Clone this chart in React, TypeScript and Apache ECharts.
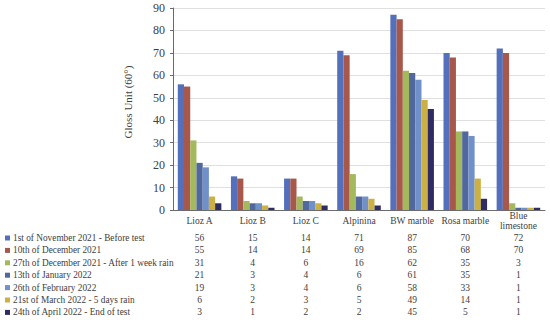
import React, { useEffect, useRef } from "react";
import * as echarts from "echarts";

const categories = ["Lioz A", "Lioz B", "Lioz C", "Alpinina", "BW marble", "Rosa marble", "Blue\nlimestone"];
const seriesNames = [
  "1st of November 2021 - Before test",
  "10th of December 2021",
  "27th of December 2021 - After 1 week rain",
  "13th of January 2022",
  "26th of February 2022",
  "21st of March 2022 - 5 days rain",
  "24th of April 2022 - End of test",
];
const nov1 = [56, 15, 14, 71, 87, 70, 72];
const dec10 = [55, 14, 14, 69, 85, 68, 70];
const dec27 = [31, 4, 6, 16, 62, 35, 3];
const jan13 = [21, 3, 4, 6, 61, 35, 1];
const feb26 = [19, 3, 4, 6, 58, 33, 1];
const mar21 = [6, 2, 3, 5, 49, 14, 1];
const apr24 = [3, 1, 2, 2, 45, 5, 1];
const seriesValues = [nov1, dec10, dec27, jan13, feb26, mar21, apr24];
const yTicks = { min: 0, max: 90, interval: 10 };

const colors = ["#5470BC", "#A8574B", "#A4B85C", "#50689E", "#6F90C8", "#CDB044", "#2E2C63"];
const FONT = "'Liberation Serif', 'Times New Roman', 'DejaVu Serif', serif";
const TEXT = "#404040";
const SMALL = 9.5;

export default function App() {
  const ref = useRef<HTMLDivElement>(null);
  useEffect(() => {
    if (!ref.current) return;
    const chart = echarts.init(ref.current, null, { renderer: "svg" });
    const rowStart = 28;
    const rowStep = 12.4;
    const tableAxes = seriesValues.map((vals, i) => ({
      type: "category",
      data: categories,
      position: "bottom",
      offset: rowStart + i * rowStep,
      axisLine: { show: false },
      axisTick: { show: false },
      splitLine: { show: false },
      axisLabel: {
        margin: 0,
        verticalAlign: "middle",
        fontFamily: FONT,
        fontSize: SMALL,
        color: TEXT,
        interval: 0,
        formatter: (_v: string, idx: number) => String(vals[idx]),
      },
    }));
    chart.setOption({
      animation: false,
      textStyle: { fontFamily: FONT },
      grid: { left: 173, right: 5, top: 8, bottom: 114, containLabel: false },
      legend: {
        orient: "vertical",
        left: 5,
        top: 232,
        padding: 0,
        itemWidth: 5,
        itemHeight: 5,
        itemGap: 0.4,
        icon: "rect",
        textStyle: { fontFamily: FONT, fontSize: 9.3, color: TEXT, lineHeight: 12, padding: [0, 0, 0, -2] },
        data: seriesNames,
      },
      xAxis: [
        {
          type: "category",
          data: categories,
          axisLine: { show: true, lineStyle: { color: "#6b6b6b" } },
          axisTick: { show: false },
          axisLabel: {
            interval: 0,
            margin: 11,
            verticalAlign: "middle",
            fontFamily: FONT,
            fontSize: SMALL,
            color: TEXT,
            lineHeight: 10.5,
          },
        },
        ...tableAxes,
      ],
      yAxis: {
        type: "value",
        min: yTicks.min,
        max: yTicks.max,
        interval: yTicks.interval,
        name: "Gloss Unit (60°)",
        nameLocation: "middle",
        nameGap: 40,
        nameRotate: 90,
        nameTextStyle: { fontFamily: FONT, fontSize: 11, color: TEXT, padding: [0, 0, 0, 14] },
        axisLine: { show: true, lineStyle: { color: "#6b6b6b" } },
        axisTick: { show: true, length: 3, lineStyle: { color: "#6b6b6b" } },
        axisLabel: { fontFamily: FONT, fontSize: 12, color: TEXT, margin: 8 },
        splitLine: { show: true, lineStyle: { color: "#e0e0e0" } },
      },
      series: seriesValues.map((vals, i) => ({
        type: "bar",
        name: seriesNames[i],
        data: vals,
        xAxisIndex: 0,
        barGap: "0%",
        barCategoryGap: "18%",
        itemStyle: { color: colors[i] },
      })),
    });
    return () => chart.dispose();
  }, []);
  return <div ref={ref} style={{ width: 550, height: 324, position: "absolute", left: 0, top: 0 }} />;
}
